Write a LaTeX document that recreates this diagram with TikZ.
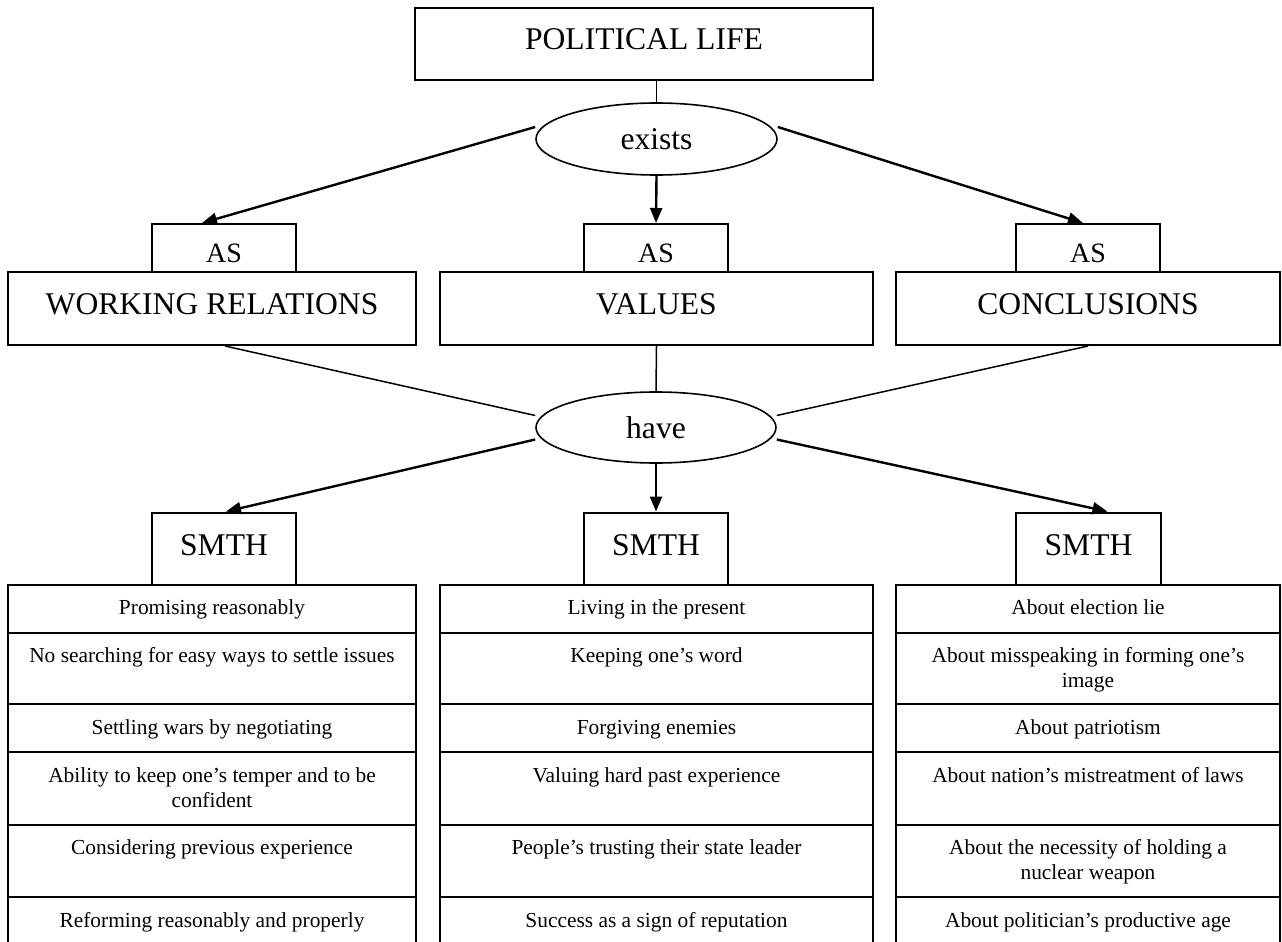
\documentclass[tikz,border=0pt]{standalone}
\usepackage{fontspec}
\setmainfont{Liberation Serif}
\usetikzlibrary{shapes.geometric, arrows.meta}
\newcommand{\bigfont}{\fontsize{31.6}{38}\selectfont}
\newcommand{\asfont}{\fontsize{28}{34}\selectfont}
\newcommand{\rowfont}{\fontsize{21.4}{25}\selectfont}

\begin{document}
\begin{tikzpicture}[x=1pt, y=-1pt,
  box/.style={draw, line width=2pt, inner sep=0pt, anchor=north, font=\bigfont},
  asbox/.style={box, minimum width=144pt, minimum height=48pt, text height=38pt, text depth=10pt, font=\asfont},
  headbox/.style={box, minimum height=73pt, text height=42pt, text depth=31pt},
  smthbox/.style={box, minimum width=144pt, minimum height=72pt, text height=43pt, text depth=29pt},
  verb/.style={ellipse, draw, line width=1.6pt, inner sep=0pt, minimum width=241pt, minimum height=72pt, font=\bigfont},
  cell/.style={draw, line width=2pt, inner sep=0pt, anchor=north},
  celltext/.style={inner sep=0pt, anchor=north, align=center, font=\rowfont},
  link/.style={line width=1.5pt},
  flow/.style={-{Triangle[length=15pt,width=12pt]}, line width=2.4pt}]
\useasboundingbox (0,0) rectangle (1282,942);
\clip (0,0) rectangle (1282,942);

% top of the tree
\node[box, minimum width=458pt, minimum height=72pt, text height=42pt, text depth=30pt] (life) at (644,7) {POLITICAL LIFE};
\node[verb] (exists) at (656.5,139) {exists};

\node[asbox] (asL) at (224,223) {AS};
\node[asbox] (asM) at (656,223) {AS};
\node[asbox] (asR) at (1088,223) {AS};

\node[headbox, minimum width=408pt] (work) at (212,271) {WORKING RELATIONS};
\node[headbox, minimum width=433pt] (values) at (656.5,271) {VALUES};
\node[headbox, minimum width=384pt] (concl) at (1088,271) {CONCLUSIONS};

\node[verb, minimum width=240pt, minimum height=71pt] (have) at (656,427.5) {have};

\node[smthbox] (smL) at (224,511.5) {SMTH};
\node[smthbox] (smM) at (656,511.5) {SMTH};
\node[smthbox, minimum width=145pt] (smR) at (1088.5,511.5) {SMTH};

% connectors
\draw[link] (exists.north |- life.south) -- (exists.north);
\draw[flow] ([yshift=12pt]exists.west) -- ([xshift=-22pt]asL.north);
\draw[flow] (exists.south) -- (asM.north);
\draw[flow] ([yshift=12pt]exists.east) -- ([xshift=-5pt]asR.north);

\draw[link] ([xshift=13pt]work.south) -- ([yshift=12pt]have.west);
\draw[link] (values.south) -- (have.north);
\draw[link] (concl.south) -- ([yshift=12pt]have.east);

\draw[flow] ([yshift=-12pt]have.west) -- ([xshift=2pt]smL.north);
\draw[flow] (have.south) -- (smM.north);
\draw[flow] ([yshift=-12pt]have.east) -- ([xshift=19pt]smR.north);

% the three tables, one row at a time
\foreach \n/\rtop/\rh/\wtext/\vtext/\ctext in {
  1/583.5/48/{Promising reasonably}/{Living in the present}/{About election lie},
  2/631.5/71.5/{No searching for easy ways to settle issues}/{Keeping one's word}/{About misspeaking in forming one's\\image},
  3/703/48/{Settling wars by negotiating}/{Forgiving enemies}/{About patriotism},
  4/751/72.5/{Ability to keep one's temper and to be\\confident}/{Valuing hard past experience}/{About nation's mistreatment of laws},
  5/823.5/72.5/{Considering previous experience}/{People's trusting their state leader}/{About the necessity of holding a\\nuclear weapon},
  6/896/70/{Reforming reasonably and properly}/{Success as a sign of reputation}/{About politician's productive age}}
{
  \node[cell, minimum width=408pt, minimum height=\rh pt] (w\n) at (212,\rtop) {};
  \node[cell, minimum width=433pt, minimum height=\rh pt] (v\n) at (656.5,\rtop) {};
  \node[cell, minimum width=384pt, minimum height=\rh pt] (c\n) at (1088,\rtop) {};
  \node[celltext] at ([yshift=-13.5pt]w\n.north) {\strut\wtext};
  \node[celltext] at ([yshift=-13.5pt]v\n.north) {\strut\vtext};
  \node[celltext] at ([yshift=-13.5pt]c\n.north) {\strut\ctext};
}
\end{tikzpicture}
\end{document}
